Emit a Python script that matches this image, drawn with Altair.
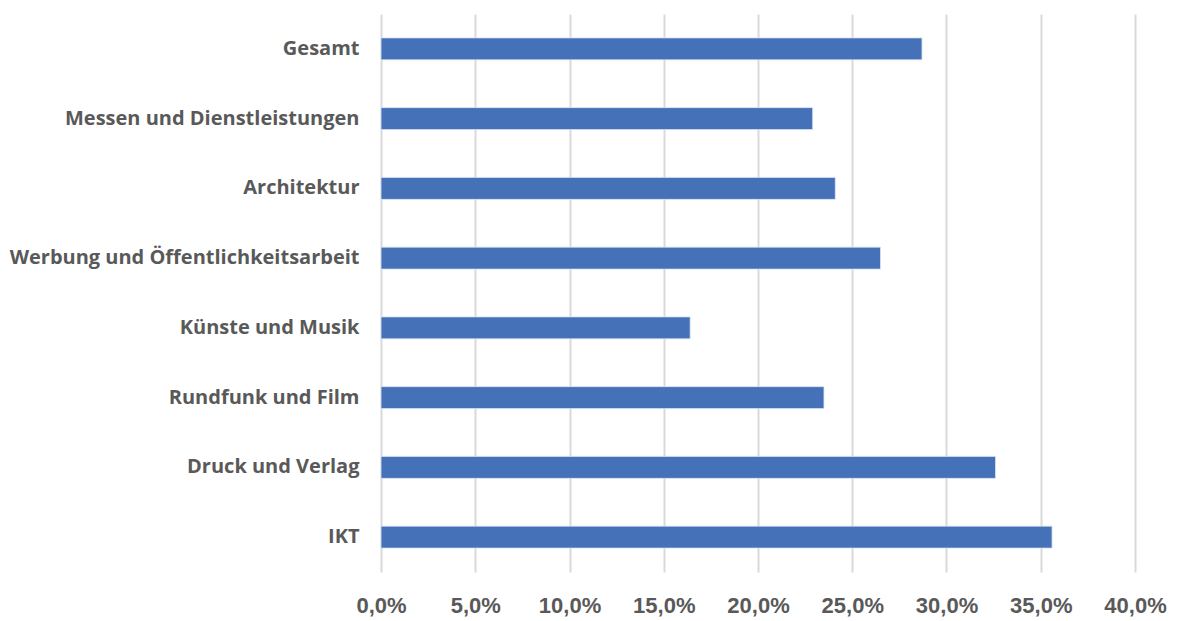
import altair as alt
import pandas as pd

categories = ["Gesamt", "Messen und Dienstleistungen", "Architektur",
              "Werbung und Öffentlichkeitsarbeit", "Künste und Musik",
              "Rundfunk und Film", "Druck und Verlag", "IKT"]
values = [28.7, 22.9, 24.1, 26.5, 16.4, 23.5, 32.6, 35.6]
ticks = [0, 5, 10, 15, 20, 25, 30, 35, 40]

df = pd.DataFrame({"Branche": categories, "Wert": [v / 100 for v in values]})

chart = alt.Chart(df).mark_bar(color="#4571B8", stroke="#dbe3f1", strokeWidth=0.8).encode(
    x=alt.X("Wert:Q",
            scale=alt.Scale(domain=[0, 0.40], nice=False),
            axis=alt.Axis(values=[t / 100 for t in ticks],
                          labelExpr="replace(format(datum.value, '.1%'), '.', ',')",
                          title=None, domain=False, ticks=False, labelOverlap=False,
                          labelFlush=False,
                          grid=True, gridColor="#d9d9d9", gridWidth=2,
                          labelFont="Liberation Sans", labelFontWeight="bold",
                          labelFontSize=22, labelColor="#595959", labelPadding=23)),
    y=alt.Y("Branche:N", sort=categories,
            scale=alt.Scale(paddingInner=0.685, paddingOuter=0.3425),
            axis=alt.Axis(title=None, domain=False, ticks=False, grid=False,
                          labelFont="Open Sans", labelFontWeight="bold",
                          labelFontSize=20, labelColor="#595959", labelPadding=22,
                          labelLimit=400)),
).properties(
    width=754, height=558,
    autosize=alt.AutoSizeParams(type="none"),
    padding={"left": 373, "top": 6, "right": 36, "bottom": 49},
).configure_view(stroke=None)

chart.save("out.html", embed_options={"renderer": "svg", "actions": False})
